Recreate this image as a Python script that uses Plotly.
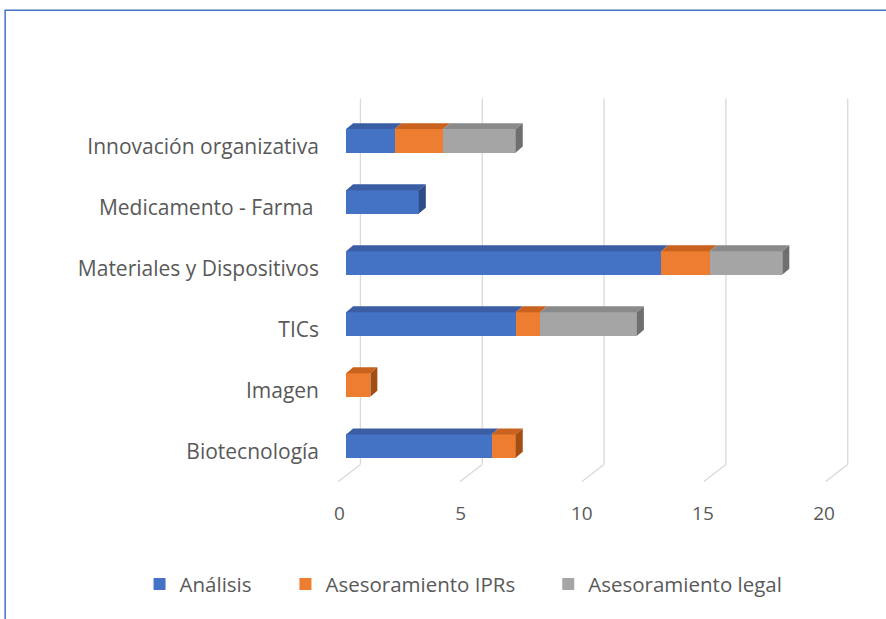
import plotly.graph_objects as go

# ---- data ----
categories = ["Biotecnología", "Imagen", "TICs", "Materiales y Dispositivos",
              "Medicamento - Farma\u00a0", "Innovación organizativa"]
analisis = [6, 0, 7, 13, 3, 2]
iprs = [1, 1, 1, 2, 0, 2]
legal = [0, 0, 4, 3, 0, 3]
series_names = ["Análisis", "Asesoramiento IPRs", "Asesoramiento legal"]
x_ticks = [0, 5, 10, 15, 20]

front_cols = ["#4472C4", "#ED7D31", "#A5A5A5"]
top_cols = ["#3A5DA3", "#C8621E", "#8A8A8A"]
side_cols = ["#2E4C86", "#A34F14", "#6F6F6F"]

W, H = 886, 619
xr = [-0.5, 21]
yr = [-0.85, 5.8]
ml, mr, mt, mb = 333.6, 31, 91.5, 120.5
pw = W - ml - mr
ph = H - mt - mb

bw = 0.384          # bar thickness (category units)
dx, dy = 0.289, 0.098   # depth offsets of the 3D faces

fig = go.Figure()

series = [analisis, iprs, legal]
idx = list(range(len(categories)))

# 3D faces
top_polys = {0: ([], []), 1: ([], []), 2: ([], [])}
side_polys = {0: ([], []), 1: ([], []), 2: ([], [])}
for i in idx:
    base = 0
    last = None
    for s, vals in enumerate(series):
        v = vals[i]
        if v > 0:
            x0, x1 = base, base + v
            yt = i + bw / 2
            xs, ys = top_polys[s]
            xs += [x0, x0 + dx, x1 + dx, x1, x0, None]
            ys += [yt, yt + dy, yt + dy, yt, yt, None]
            last = (s, x1)
            base = x1
    if last:
        s, x1 = last
        yt, yb = i + bw / 2, i - bw / 2
        xs, ys = side_polys[s]
        xs += [x1, x1 + dx, x1 + dx, x1, x1, None]
        ys += [yt, yt + dy, yb + dy, yb, yt, None]

for s in range(3):
    fig.add_trace(go.Bar(
        y=idx, x=series[s], orientation="h", width=bw,
        name=series_names[s], marker=dict(color=front_cols[s], line=dict(width=0)),
        legend=["legend", "legend2", "legend3"][s], hoverinfo="skip"))

for s in range(3):
    for polys, cols in ((top_polys, top_cols), (side_polys, side_cols)):
        xs, ys = polys[s]
        if xs:
            fig.add_trace(go.Scatter(x=xs, y=ys, mode="lines", fill="toself",
                                     fillcolor=cols[s], line=dict(width=0),
                                     showlegend=False, hoverinfo="skip"))

# back-wall gridlines and floor lines
gcol = "#D9D9D9"
for v in x_ticks:
    xb = 0.59 + 1.0055 * v
    xf = -0.32 + 1.0055 * v
    fig.add_shape(type="line", x0=xb, x1=xb, y0=-0.302, y1=5.694, xref="x", yref="y",
                  line=dict(color=gcol, width=1.3), layer="below")
    fig.add_shape(type="line", x0=xb, x1=xf, y0=-0.302, y1=-0.58, xref="x", yref="y",
                  line=dict(color=gcol, width=1.3), layer="below")

# outer border
def px2paper_x(px):
    return (px - ml) / pw

def px2paper_y(py):
    return (H - mb - py) / ph

fig.add_shape(type="rect", xref="paper", yref="paper",
              x0=px2paper_x(4.5), x1=px2paper_x(W + 20),
              y0=px2paper_y(H + 20), y1=px2paper_y(9.5),
              line=dict(color="#4472C4", width=1.5), layer="above")

FAM = "Open Sans"
tick_font = dict(family=FAM, size=19, color="#595959")
cat_font = dict(family=FAM, size=21, color="#595959")
leg_font = dict(family=FAM, size=20.5, color="#595959")
leg_y = px2paper_y(585)
leg_common = dict(orientation="h", yanchor="middle", y=leg_y, xanchor="left",
                  font=leg_font, bgcolor="rgba(0,0,0,0)", borderwidth=0)

fig.update_layout(
    width=W, height=H,
    margin=dict(l=ml, r=mr, t=mt, b=mb, pad=0),
    paper_bgcolor="white", plot_bgcolor="white",
    barmode="stack", bargap=0,
    font=tick_font,
    xaxis=dict(range=xr, showgrid=False, zeroline=False, showline=False,
               tickvals=[v - 0.275 for v in x_ticks], ticktext=[str(v) for v in x_ticks],
               ticks="", tickfont=tick_font, ticklabelstandoff=2, fixedrange=True),
    yaxis=dict(range=yr, showgrid=False, zeroline=False, showline=False,
               tickvals=[i - 0.09 for i in idx], ticktext=categories,
               ticks="", tickfont=cat_font,
               ticklabelstandoff=14, fixedrange=True),
    legend=dict(x=px2paper_x(139), **leg_common),
    legend2=dict(x=px2paper_x(285), **leg_common),
    legend3=dict(x=px2paper_x(548), **leg_common),
)

fig.write_html("out.html", config={"displayModeBar": False},
               post_script="document.body.style.margin='0px';")
